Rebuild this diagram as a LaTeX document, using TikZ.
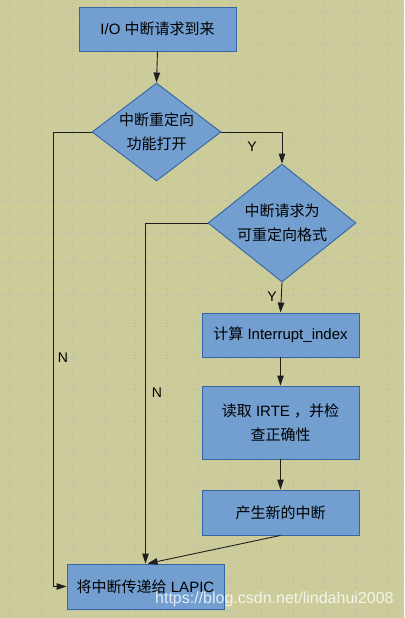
\documentclass[tikz,border=0pt]{standalone}
\usepackage{fontspec}
\setmainfont{Liberation Sans}
\newfontfamily\cjk{Noto Sans CJK SC}
\usetikzlibrary{shapes.geometric,arrows.meta}

\definecolor{paper}{RGB}{204,204,155}
\definecolor{gridc}{RGB}{184,186,176}
\definecolor{boxfill}{RGB}{114,159,207}
\definecolor{boxline}{RGB}{52,101,164}
\definecolor{wire}{RGB}{30,30,30}

\tikzset{
  stepbox/.style={draw=boxline, fill=boxfill, line width=0.9pt, rectangle,
    inner sep=0pt, align=center, font=\fontsize{15}{23.5}\selectfont,
    minimum width=157pt},
  decide/.style={draw=boxline, fill=boxfill, line width=0.9pt, diamond,
    inner sep=0pt, align=center, font=\fontsize{15}{24}\selectfont},
  flow/.style={draw=wire, line width=0.9pt, -{Triangle[length=10pt,width=6.5pt]}},
  tag/.style={font=\fontsize{14}{14}\selectfont, text=black, inner sep=0pt},
  gridline/.style={draw=gridc, line width=0.8pt, dash pattern=on 1pt off 2.2pt}
}

\begin{document}
\begin{tikzpicture}[x=1pt,y=-1pt]
  % page and dotted grid
  \fill[paper] (0,0) rectangle (404,618);
  \useasboundingbox (0,0) rectangle (404,618);
  \foreach \i in {0,...,12} {
    \draw[gridline] (9.5+31.5*\i,0) -- (9.5+31.5*\i,618);
  }
  \foreach \j in {0,...,19} {
    \draw[gridline] (0,11.5+31.5*\j) -- (404,11.5+31.5*\j);
  }

  % steps and decisions
  \node[stepbox, minimum height=44pt] (start) at (157.5,29) {I/O {\cjk 中断请求到来}};
  \node[decide, minimum width=129pt, minimum height=98pt, shape aspect=1.316]
    (remap) at (156.5,132) {{\cjk 中断重定向}\\{\cjk 功能打开}};
  \node[decide, minimum width=148pt, minimum height=118pt, shape aspect=1.254]
    (format) at (282,223) {{\cjk 中断请求为}\\{\cjk 可重定向格式}};
  \node[stepbox, minimum height=44pt] (index) at (280.5,335) {{\cjk 计算} Interrupt\_index};
  \node[stepbox, minimum height=73pt] (irte) at (280.5,422.5)
    {{\cjk 读取} IRTE {\cjk ，并检}\\{\cjk 查正确性}};
  \node[stepbox, minimum height=45pt] (newint) at (280.5,512.5) {{\cjk 产生新的中断}};
  \node[stepbox, minimum height=45pt] (lapic) at (145.5,586.5) {{\cjk 将中断传递给} LAPIC};

  % connectors
  \draw[flow] (start.south) -- (remap.north);
  \draw[flow] (remap.east) -| (format.north);
  \draw[flow] (remap.west) -- ++(-38,0) |- (lapic.west);
  \draw[flow] (format.west) -| (lapic.north);
  \draw[flow] (format.south) -- (index.north);
  \draw[flow] (index.south) -- (irte.north);
  \draw[flow] (irte.south) -- (newint.north);
  \draw[flow] (newint.south) -- ([xshift=2pt]lapic.north);

  % branch labels
  \node[tag] (y1) at (252,147) {Y};
  \node[tag] (n1) at (63,358) {N};
  \node[tag] (y2) at (272,297) {Y};
  \node[tag] (n2) at (157,393) {N};

  % watermark
  \node[anchor=base west, inner sep=0pt, text=white, text opacity=0.8,
    font=\fontsize{16}{16}\selectfont] (mark) at (155,603)
    {https://blog.csdn.net/lindahui2008};
\end{tikzpicture}
\end{document}
